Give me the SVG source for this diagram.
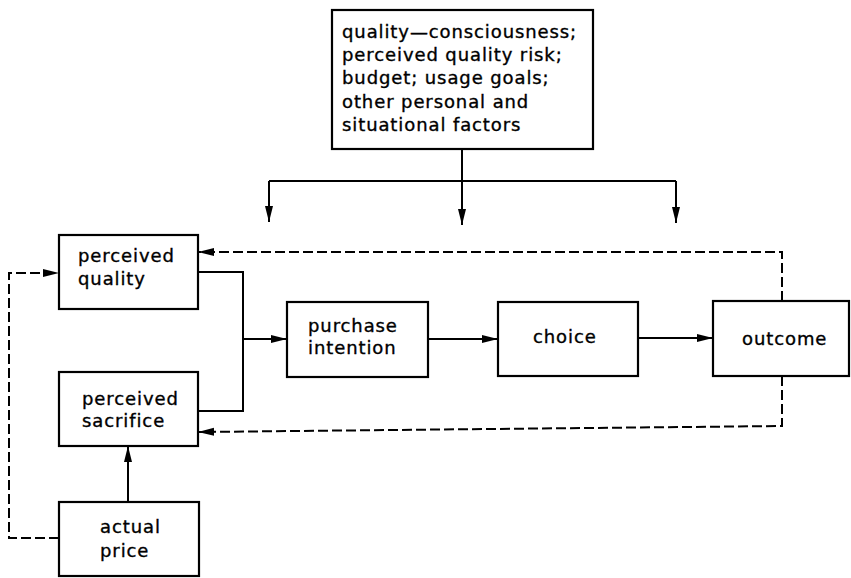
<svg xmlns="http://www.w3.org/2000/svg" width="851" height="578" viewBox="0 0 851 578">
  <style>
    .box { fill: #fff; stroke: #000; stroke-width: 2.2; }
    .lbl { font-family: "DejaVu Sans", "Liberation Sans", sans-serif; font-size: 18px; letter-spacing: 0.9px; fill: #000; stroke: #000; stroke-width: 0.35px; }
    .wire { fill: none; stroke: #000; stroke-width: 2; }
    .dash { fill: none; stroke: #000; stroke-width: 2; stroke-dasharray: 10 4; }
  </style>
  <defs>
    <marker id="arrow" markerUnits="userSpaceOnUse" markerWidth="17" markerHeight="10" refX="16" refY="5" orient="auto">
      <path d="M0,1 L16,5 L0,9 z" fill="#000"/>
    </marker>
  </defs>
  <rect width="851" height="578" fill="#fff"/>

  <g id="connectors">
    <!-- moderating factors fan out downwards -->
    <path class="wire" d="M462,149 V225" marker-end="url(#arrow)"/>
    <path class="wire" d="M269,181 H676"/>
    <path class="wire" d="M269,181 V222" marker-end="url(#arrow)"/>
    <path class="wire" d="M676,181 V223" marker-end="url(#arrow)"/>
    <!-- quality and sacrifice merge into purchase intention -->
    <path class="wire" d="M198,272 H243 V411 H198"/>
    <path class="wire" d="M243,339 H287" marker-end="url(#arrow)"/>
    <path class="wire" d="M428,339 H498" marker-end="url(#arrow)"/>
    <path class="wire" d="M638,338 H713" marker-end="url(#arrow)"/>
    <path class="wire" d="M128,502 V446" marker-end="url(#arrow)"/>
    <!-- feedback loops -->
    <path class="dash" d="M782,301 V252 H198" marker-end="url(#arrow)"/>
    <path class="dash" d="M782,376 V426 L198,432" marker-end="url(#arrow)"/>
    <path class="dash" d="M59,538 H9 V273 H59" marker-end="url(#arrow)"/>
  </g>

  <g id="factors">
    <rect class="box" x="332" y="10" width="261" height="139"/>
    <text class="lbl" x="342" y="38">quality—consciousness;</text>
    <text class="lbl" x="342" y="61">perceived quality risk;</text>
    <text class="lbl" x="342" y="84">budget; usage goals;</text>
    <text class="lbl" x="342" y="108">other personal and</text>
    <text class="lbl" x="342" y="131">situational factors</text>
  </g>

  <g id="perceived-quality">
    <rect class="box" x="59" y="235" width="139" height="74"/>
    <text class="lbl" x="78" y="262">perceived</text>
    <text class="lbl" x="78" y="285">quality</text>
  </g>

  <g id="perceived-sacrifice">
    <rect class="box" x="59" y="372" width="139" height="74"/>
    <text class="lbl" x="82" y="405">perceived</text>
    <text class="lbl" x="82" y="427">sacrifice</text>
  </g>

  <g id="actual-price">
    <rect class="box" x="59" y="502" width="140" height="74"/>
    <text class="lbl" x="100" y="533">actual</text>
    <text class="lbl" x="100" y="557">price</text>
  </g>

  <g id="purchase-intention">
    <rect class="box" x="287" y="302" width="141" height="75"/>
    <text class="lbl" x="308" y="332">purchase</text>
    <text class="lbl" x="308" y="354">intention</text>
  </g>

  <g id="choice">
    <rect class="box" x="498" y="302" width="140" height="74"/>
    <text class="lbl" x="533" y="343">choice</text>
  </g>

  <g id="outcome">
    <rect class="box" x="713" y="301" width="136" height="75"/>
    <text class="lbl" x="742" y="345">outcome</text>
  </g>
</svg>
